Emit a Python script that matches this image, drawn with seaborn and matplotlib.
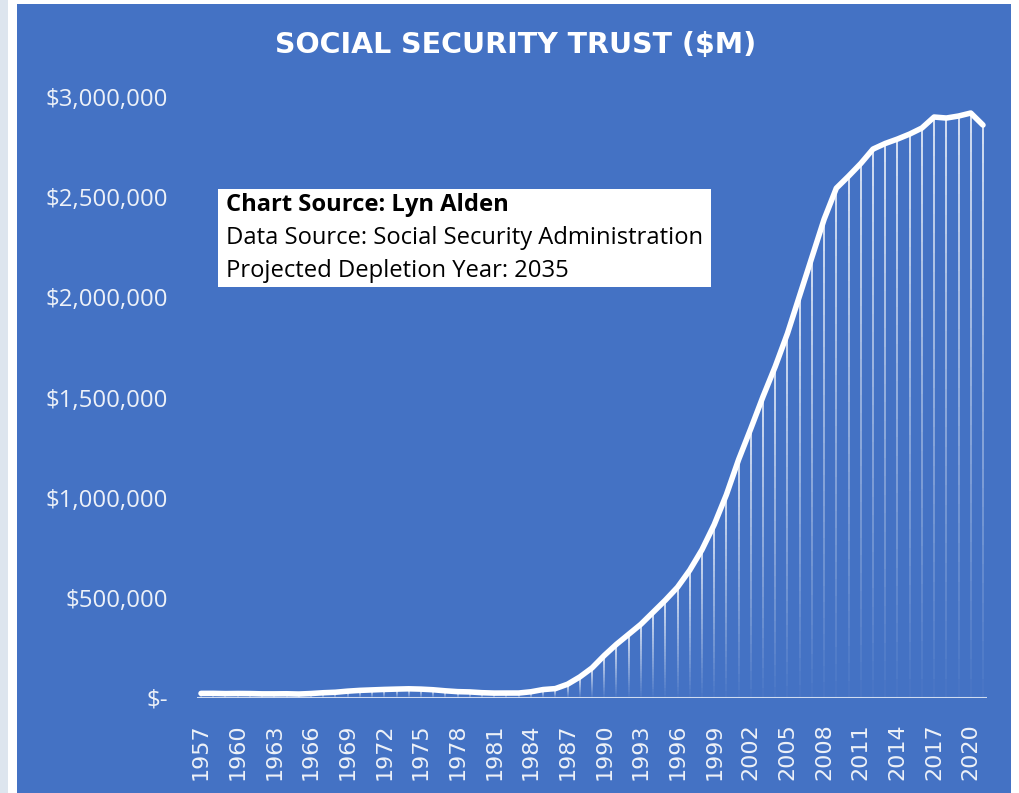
import numpy as np
import pandas as pd
import matplotlib
matplotlib.use("Agg")
import matplotlib.pyplot as plt
import seaborn as sns
from matplotlib.collections import LineCollection
from matplotlib.patches import Rectangle

# Trust fund assets at year end, $ millions
years = list(range(1957, 2022))
assets = [23042, 23243, 21966, 22613, 22164, 20705, 20715, 21172, 19841, 22308,
          26250, 28729, 34182, 38068, 40434, 42775, 44414, 45886, 44342, 41133,
          35861, 31746, 30291, 26453, 24539, 24778, 24867, 31075, 42163, 46861,
          68807, 105000, 150000, 212000, 268000, 318000, 368000, 428000, 488000, 553000,
          638000, 740000, 865000, 1015000, 1190000, 1345000, 1505000, 1655000, 1820000, 2010000,
          2200000, 2390000, 2545000, 2605000, 2668000, 2740000, 2768000, 2790000, 2815000, 2845000,
          2900000, 2895000, 2905000, 2920000, 2860000]

y_ticks = [0, 500000, 1000000, 1500000, 2000000, 2500000, 3000000]
y_labels = ['$-', '$500,000', '$1,000,000', '$1,500,000', '$2,000,000', '$2,500,000', '$3,000,000']
x_ticks = years[::3]

title = 'SOCIAL SECURITY TRUST ($M)'
note_lines = ['Chart Source: Lyn Alden',
              'Data Source: Social Security Administration',
              'Projected Depletion Year: 2035']

df = pd.DataFrame({'year': years, 'assets': assets})

sns.set_style('white')
plt.rcParams['font.family'] = ['Open Sans', 'DejaVu Sans']

BLUE = '#4472c4'
LABEL = '#edf1f8'
W, H = 1020, 793

fig = plt.figure(figsize=(10.2, 7.93), dpi=100, facecolor='white')

# background panels (pixel coords -> figure fraction)
def px_rect(x0, y0, x1, y1, color, z):
    fig.patches.append(Rectangle((x0 / W, 1 - y1 / H), (x1 - x0) / W, (y1 - y0) / H,
                                 transform=fig.transFigure, facecolor=color,
                                 edgecolor='none', zorder=z))

px_rect(0, 0, 8, H, '#dde5ee', -2)
px_rect(17, 4, 1011, H, BLUE, -2)

ax = fig.add_axes([197 / W, (H - 698) / H, (987 - 197) / W, (698 - 97) / H])
ax.set_facecolor('none')
ax.set_zorder(1)

# drop lines fading towards the baseline
n = 30
segs, cols = [], []
for yr, v in zip(years, assets):
    for k in range(n):
        segs.append([(yr, v * k / n), (yr, v * (k + 1) / n)])
        cols.append((1, 1, 1, 0.9 * (k + 1) / n))
ax.add_collection(LineCollection(segs, colors=cols, linewidths=1.2, zorder=2))

ax.axhline(0, color='white', alpha=0.75, lw=1.5, zorder=2)

sns.lineplot(data=df, x='year', y='assets', ax=ax, color='white', lw=4,
             zorder=3, clip_on=False)
ax.lines[-1].set_solid_capstyle('round')
ax.lines[-1].set_solid_joinstyle('round')

ax.set_xlim(1956.67, 2021.33)
ax.set_ylim(0, 3000000)
ax.set_yticks(y_ticks)
ax.set_yticklabels(y_labels)
ax.set_xticks(x_ticks)
ax.set_xticklabels([str(x) for x in x_ticks], rotation=90, family='DejaVu Sans')
ax.tick_params(axis='y', length=0, pad=21, labelsize=17.3, labelcolor=LABEL)
ax.tick_params(axis='x', length=0, pad=18, labelsize=16, labelcolor=LABEL)
ax.set_xlabel('')
ax.set_ylabel('')
for s in ax.spines.values():
    s.set_visible(False)

fig.text(516 / W, 1 - 45 / H, title, ha='center', va='center', color='white',
         fontsize=20.5, fontweight='bold', family='DejaVu Sans', zorder=5)

# note box
px_rect(218, 189, 711, 287, 'white', 4)
for i, line in enumerate(note_lines):
    fig.text(226 / W, 1 - (205 + 33 * i) / H, line, ha='left', va='center',
             color='black', fontsize=17.1, fontweight='bold' if i == 0 else 'normal',
             zorder=5)

fig.savefig('out.png', dpi=100, facecolor='white')
